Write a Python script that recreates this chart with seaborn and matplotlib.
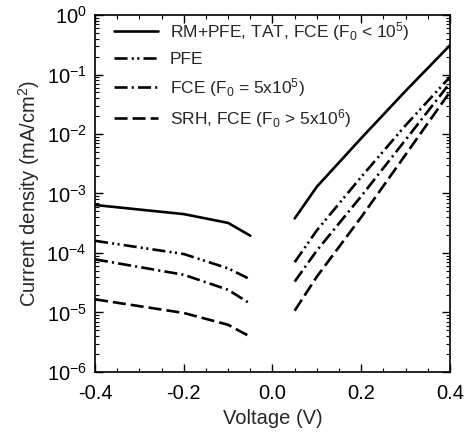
import numpy as np
import pandas as pd
import matplotlib
matplotlib.use("Agg")
import matplotlib.pyplot as plt
import seaborn as sns

sns.set_style("ticks")
plt.rcParams['font.family'] = ['Liberation Sans', 'DejaVu Sans']
plt.rcParams['mathtext.fontset'] = 'custom'
plt.rcParams['mathtext.rm'] = 'Liberation Sans'
plt.rcParams['mathtext.it'] = 'Liberation Sans:italic'
plt.rcParams['mathtext.bf'] = 'Liberation Sans:bold'
plt.rcParams['lines.scale_dashes'] = False

# Data
v_neg = [-0.4, -0.2, -0.1, -0.05]
v_pos = [0.05, 0.1, 0.2, 0.3, 0.4]

labels = [r'RM+PFE, TAT, FCE (F$_0$ < 10$^5$)',
          r'PFE',
          r'FCE (F$_0$ = 5x10$^5$)',
          r'SRH, FCE (F$_0$ > 5x10$^6$)']

y_ticks = [1e-6, 1e-5, 1e-4, 1e-3, 1e-2, 1e-1, 1e0]
y_ticklabels = [r'10$^{-6}$', r'10$^{-5}$', r'10$^{-4}$', r'10$^{-3}$',
                r'10$^{-2}$', r'10$^{-1}$', r'10$^{0}$']
x_ticks = [-0.4, -0.2, 0.0, 0.2, 0.4]
x_ticklabels = ['-0.4', '-0.2', '0.0', '0.2', '0.4']

j_rm_neg = [6.4e-4, 4.5e-4, 3.2e-4, 1.95e-4]
j_rm_pos = [3.8e-4, 1.3e-3, 8.5e-3, 5.3e-2, 0.31]
j_pfe_neg = [1.6e-4, 9.6e-5, 5.5e-5, 3.6e-5]
j_pfe_pos = [7.0e-5, 2.4e-4, 1.9e-3, 1.4e-2, 0.091]
j_fce_neg = [7.8e-5, 4.3e-5, 2.4e-5, 1.4e-5]
j_fce_pos = [3.3e-5, 1.1e-4, 9.0e-4, 8.0e-3, 0.072]
j_srh_neg = [1.66e-5, 9.8e-6, 6.2e-6, 3.9e-6]
j_srh_pos = [1.07e-5, 4.0e-5, 4.0e-4, 4.5e-3, 0.051]

series = [
    (labels[0], j_rm_neg, j_rm_pos, '-'),
    (labels[1], j_pfe_neg, j_pfe_pos, (0, (9.4, 3.0, 1.5, 2.5, 1.5, 3.0))),
    (labels[2], j_fce_neg, j_fce_pos, (0, (9.4, 3.0, 1.5, 3.0))),
    (labels[3], j_srh_neg, j_srh_pos, (0, (9.4, 3.6))),
]

fig = plt.figure(figsize=(4.68, 4.36), dpi=100)
ax = fig.add_axes([0.203, 0.147, 0.7585, 0.8185])

lw = 1.9
for name, jn, jp, ls in series:
    dfn = pd.DataFrame({'V': v_neg, 'J': jn})
    dfp = pd.DataFrame({'V': v_pos, 'J': jp})
    sns.lineplot(data=dfn, x='V', y='J', ax=ax, color='black', linewidth=lw,
                 linestyle=ls, label=name)
    sns.lineplot(data=dfp, x='V', y='J', ax=ax, color='black', linewidth=lw,
                 linestyle=ls, label='_nolegend_')

ax.set_yscale('log')
ax.set_xlim(-0.4, 0.4)
ax.set_ylim(1e-6, 1)
ax.set_xticks(x_ticks)
ax.set_xticklabels(x_ticklabels)
ax.xaxis.set_minor_locator(matplotlib.ticker.MultipleLocator(0.05))
ax.xaxis.set_minor_formatter(matplotlib.ticker.NullFormatter())
ax.set_yticks(y_ticks)
ax.set_yticklabels(y_ticklabels)
ax.yaxis.set_minor_locator(matplotlib.ticker.LogLocator(base=10, subs=np.arange(2, 10), numticks=20))
ax.yaxis.set_minor_formatter(matplotlib.ticker.NullFormatter())
ax.set_ylim(1e-6, 1)

ax.tick_params(which='both', direction='in', top=True, right=True, colors='black',
               labelsize=14.5)
ax.tick_params(which='major', length=6, width=1)
ax.tick_params(which='minor', length=3, width=0.8)
ax.tick_params(axis='x', which='major', pad=9)
ax.tick_params(axis='y', which='major', pad=6)
for s in ax.spines.values():
    s.set_color('black')
    s.set_linewidth(1.2)

ax.set_xlabel('Voltage (V)', fontsize=14.5, labelpad=4)
ax.set_ylabel('Current density (mA/cm$^2$)', fontsize=14.5, labelpad=3)

leg = ax.legend(loc='upper left', bbox_to_anchor=(0.035, 1.005), borderaxespad=0,
                frameon=False, fontsize=12.5, handlelength=2.5,
                labelspacing=0.5, handletextpad=0.7)

fig.savefig('out.png', dpi=100)
